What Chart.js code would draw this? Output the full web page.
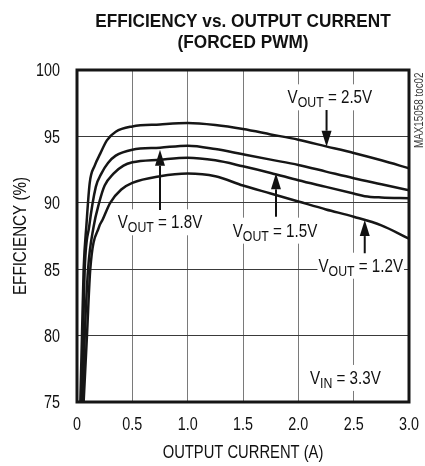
<!DOCTYPE html>
<html>
<head>
<meta charset="utf-8">
<script src="https://cdn.jsdelivr.net/npm/chart.js@4.4.0/dist/chart.umd.min.js"></script>
<style>
  html, body { margin: 0; padding: 0; background: #fff; }
  #wrap { width: 425px; height: 466px; }
</style>
</head>
<body>
<div id="wrap"><canvas id="effChart" width="425" height="466"></canvas></div>
<script>
// no narrow face installed, so Liberation Sans is squeezed horizontally to look like Arial Narrow
const FONT = "'Liberation Sans', Arial, sans-serif";
const K = 0.82;

// output current (A) and efficiency (%), one pair per curve
const iout25 = [0.03, 0.045, 0.06, 0.085, 0.115, 0.16, 0.21, 0.27, 0.35, 0.5, 0.75, 1.0, 1.25, 1.5, 1.75, 2.0, 2.25, 2.5, 2.75, 3.0];
const eff25  = [75, 80, 85, 88.3, 91.5, 92.8, 93.7, 94.7, 95.35, 95.75, 95.9, 96.0, 95.85, 95.55, 95.15, 94.75, 94.25, 93.75, 93.2, 92.6];

const iout18 = [0.04, 0.055, 0.07, 0.11, 0.17, 0.22, 0.28, 0.35, 0.5, 0.75, 1.0, 1.25, 1.5, 1.75, 2.0, 2.25, 2.5, 2.75, 3.0];
const eff18  = [75, 80, 85, 88.2, 91.2, 92.2, 93.0, 93.55, 94.0, 94.15, 94.3, 94.05, 93.65, 93.25, 92.85, 92.35, 91.85, 91.4, 90.95];

const iout15 = [0.05, 0.07, 0.1, 0.15, 0.2, 0.25, 0.33, 0.42, 0.5, 0.75, 1.0, 1.25, 1.5, 1.75, 2.0, 2.25, 2.5, 2.6, 2.75, 3.0];
const eff15  = [75, 80, 85, 88.2, 90.0, 91.3, 92.2, 92.8, 93.05, 93.25, 93.4, 93.2, 92.75, 92.25, 91.7, 91.2, 90.7, 90.5, 90.4, 90.35];

const iout12 = [0.06, 0.09, 0.12, 0.2, 0.23, 0.3, 0.4, 0.5, 0.75, 1.0, 1.25, 1.5, 1.75, 2.0, 2.25, 2.5, 2.75, 3.0];
const eff12  = [75, 80, 85, 88.2, 88.7, 90.0, 91.0, 91.5, 92.0, 92.2, 92.0, 91.3, 90.7, 90.1, 89.5, 88.95, 88.3, 87.3];

const xTickLabels = ['0', '0.5', '1.0', '1.5', '2.0', '2.5', '3.0'];
const yTickLabels = ['75', '80', '85', '90', '95', '100'];

// callouts: V + subscript + rest, centred on x, baseline at y; arrow = [x, from, tip]
const callouts = [
  { sub: 'OUT', rest: ' = 2.5V', x: 2.285, y: 97.49, arrow: [2.255, 96.99, 94.22] },
  { sub: 'OUT', rest: ' = 1.8V', x: 0.75, y: 88.08, arrow: [0.75, 89.46, 94.0] },
  { sub: 'OUT', rest: ' = 1.5V', x: 1.789, y: 87.45, arrow: [1.798, 88.95, 92.22] },
  { sub: 'OUT', rest: ' = 1.2V', x: 2.564, y: 84.81, arrow: [2.60, 86.2, 88.7] },
  { sub: 'IN', rest: ' = 3.3V', x: 2.425, y: 76.36 }
];

function curve(xs, ys) {
  return {
    data: xs.map((v, i) => ({ x: v, y: ys[i] })),
    borderColor: '#161616',
    borderWidth: 2.5,
    pointRadius: 0,
    cubicInterpolationMode: 'monotone',
    fill: false
  };
}

function txt(ctx, s, x, y, size, o = {}) {
  ctx.save();
  ctx.translate(x, y);
  if (o.rot) ctx.rotate(o.rot);
  ctx.scale(o.k || K, 1);
  ctx.font = (o.bold ? 'bold ' : '') + size + 'px ' + FONT;
  ctx.textAlign = o.align || 'center';
  ctx.textBaseline = 'alphabetic';
  ctx.fillStyle = o.color || '#111';
  ctx.fillText(s, 0, 0);
  ctx.restore();
}

function textW(ctx, s, size) {
  ctx.font = size + 'px ' + FONT;
  return ctx.measureText(s).width * K;
}

const mainSize = 18.5, subSize = 15;

const decorPlugin = {
  id: 'decor',
  beforeDatasetsDraw(chart) {
    const { ctx, scales: { x, y } } = chart;
    ctx.save();
    callouts.forEach(c => {
      const cx = x.getPixelForValue(c.x);
      const by = y.getPixelForValue(c.y);
      const wV = textW(ctx, 'V', mainSize);
      const wS = textW(ctx, c.sub, subSize);
      const wR = textW(ctx, c.rest, mainSize);
      const w = wV + wS + wR;
      let tx = cx - w / 2;
      ctx.fillStyle = '#fff';
      ctx.fillRect(tx - 1, by - 19, w + 2, 26);
      txt(ctx, 'V', tx, by, mainSize, { align: 'left' });
      txt(ctx, c.sub, tx + wV, by + 4, subSize, { align: 'left' });
      txt(ctx, c.rest, tx + wV + wS, by, mainSize, { align: 'left' });

      if (c.arrow) {
        const ax = x.getPixelForValue(c.arrow[0]);
        const y0 = y.getPixelForValue(c.arrow[1]);
        const y1 = y.getPixelForValue(c.arrow[2]);
        const dir = y1 > y0 ? 1 : -1;
        const head = 16, half = 5;
        ctx.strokeStyle = '#111';
        ctx.fillStyle = '#111';
        ctx.lineWidth = 2;
        ctx.beginPath();
        ctx.moveTo(ax, y0);
        ctx.lineTo(ax, y1 - dir * head);
        ctx.stroke();
        ctx.beginPath();
        ctx.moveTo(ax, y1);
        ctx.lineTo(ax - half, y1 - dir * head);
        ctx.lineTo(ax + half, y1 - dir * head);
        ctx.closePath();
        ctx.fill();
      }
    });
    ctx.restore();
  },
  afterDatasetsDraw(chart) {
    const { ctx, chartArea: a } = chart;
    ctx.save();
    ctx.strokeStyle = '#161616';
    ctx.lineWidth = 3;
    ctx.strokeRect(a.left, a.top, a.right - a.left, a.bottom - a.top);
    ctx.restore();
  },
  afterDraw(chart) {
    const { ctx, chartArea: a, scales: { x, y } } = chart;
    const mid = (a.left + a.right) / 2;

    // title
    txt(ctx, 'EFFICIENCY vs. OUTPUT CURRENT', mid, 27, 18.5, { bold: true, k: 0.93 });
    txt(ctx, '(FORCED PWM)', mid, 48, 18.5, { bold: true, k: 0.93 });

    // tick labels
    xTickLabels.forEach(t => txt(ctx, t, x.getPixelForValue(parseFloat(t)), a.bottom + 28, 17.5));
    yTickLabels.forEach(t => txt(ctx, t, a.left - 17, y.getPixelForValue(parseFloat(t)) + 6.3, 17.5, { align: 'right' }));

    // axis titles
    txt(ctx, 'OUTPUT CURRENT (A)', mid, 458, 18);
    txt(ctx, 'EFFICIENCY (%)', 25.5, (a.top + a.bottom) / 2, 18.5, { rot: -Math.PI / 2 });

    // part number note along the right edge
    txt(ctx, 'MAX15058 toc02', a.right + 14, a.top + 78, 12, { rot: -Math.PI / 2, align: 'left', color: '#3a3a3a' });
  }
};

const ctx = document.getElementById('effChart').getContext('2d');
const effChart = new Chart(ctx, {
  type: 'line',
  data: {
    datasets: [curve(iout25, eff25), curve(iout18, eff18), curve(iout15, eff15), curve(iout12, eff12)]
  },
  options: {
    responsive: false,
    animation: false,
    layout: { padding: { top: 70, right: 16, bottom: 0, left: 0 } },
    plugins: { legend: { display: false }, title: { display: false }, tooltip: { enabled: false } },
    scales: {
      x: {
        type: 'linear',
        min: 0,
        max: 3,
        afterFit(scale) { scale.height = 64; },
        afterBuildTicks(scale) {
          scale.ticks = xTickLabels.map(t => ({ value: parseFloat(t) }));
        },
        ticks: { display: false },
        grid: { color: '#7a7a7a', lineWidth: 1, drawTicks: false },
        border: { display: false }
      },
      y: {
        min: 75,
        max: 100,
        afterFit(scale) { scale.width = 77; },
        afterBuildTicks(scale) {
          scale.ticks = yTickLabels.map(t => ({ value: parseFloat(t) }));
        },
        ticks: { display: false },
        grid: { color: '#3a3a3a', lineWidth: 1, drawTicks: false },
        border: { display: false }
      }
    }
  },
  plugins: [decorPlugin]
});
</script>
</body>
</html>
